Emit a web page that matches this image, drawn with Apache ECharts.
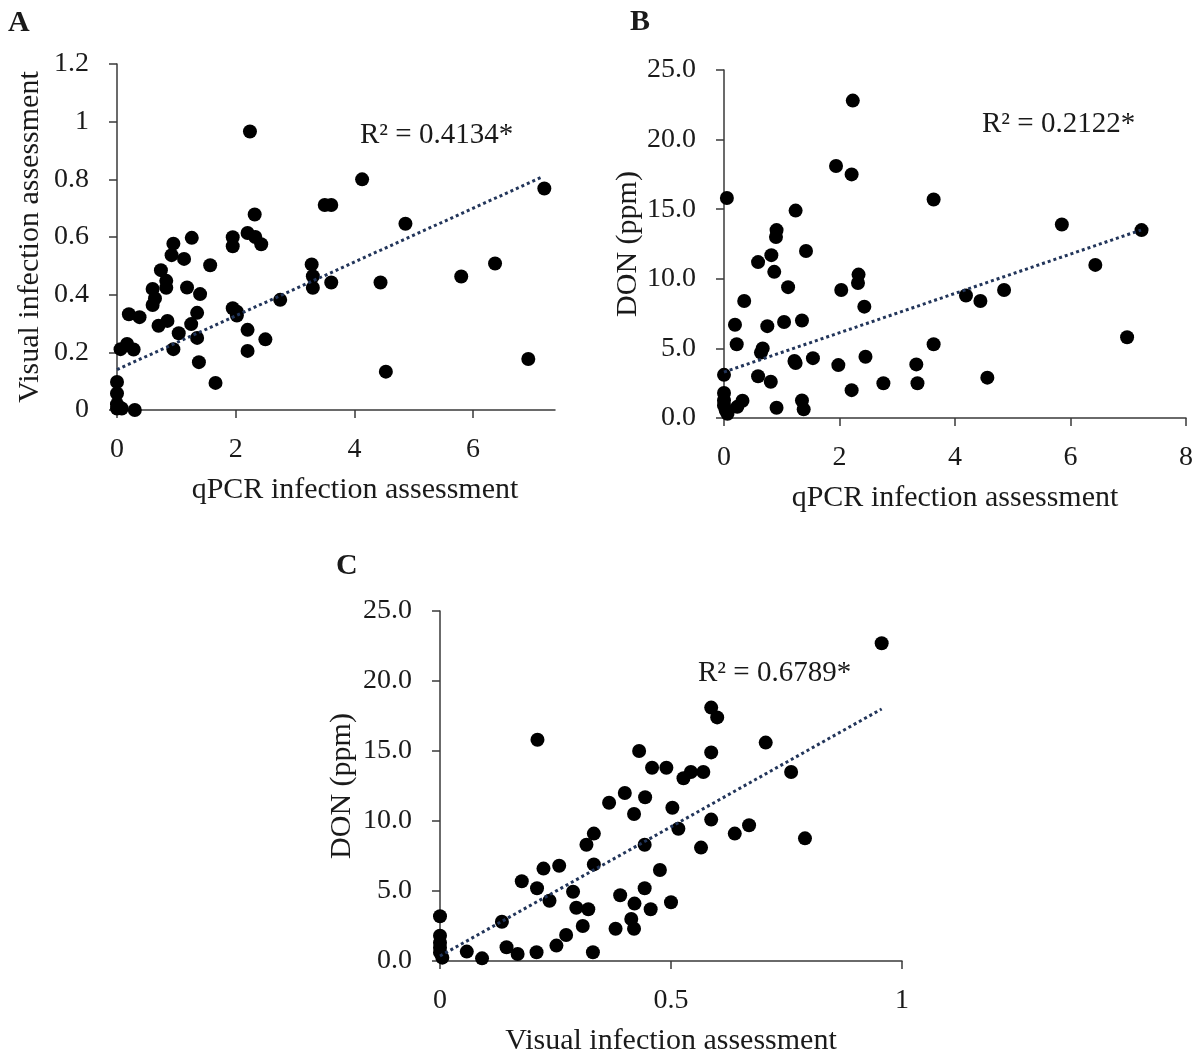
<!DOCTYPE html>
<html>
<head>
<meta charset="utf-8">
<title>Infection assessment scatter plots</title>
<script src="https://cdn.jsdelivr.net/npm/echarts@6/dist/echarts.min.js"></script>
<style>
  html, body { margin: 0; padding: 0; background: #fff; }
  #chart { width: 1198px; height: 1057px; }
</style>
</head>
<body>
<div id="chart"></div>
<script>
// panel A: qPCR vs visual
const pointsA = [
  [2.24, 0.966], [4.13, 0.80], [7.2, 0.768], [3.5, 0.711], [3.61, 0.711], [2.32, 0.678],
  [4.86, 0.646], [1.26, 0.597], [1.95, 0.599], [1.95, 0.568], [2.2, 0.614], [2.33, 0.6],
  [2.43, 0.575], [0.95, 0.577], [0.92, 0.537], [1.13, 0.524], [1.57, 0.502], [3.28, 0.505],
  [3.3, 0.464], [3.3, 0.424], [3.61, 0.442], [4.44, 0.442], [5.8, 0.463], [6.37, 0.508],
  [0.74, 0.485], [0.83, 0.448], [0.83, 0.424], [0.6, 0.42], [0.64, 0.387], [0.6, 0.364],
  [1.18, 0.425], [1.4, 0.402], [1.35, 0.337], [1.25, 0.298], [1.35, 0.25], [1.38, 0.166],
  [1.04, 0.266], [0.7, 0.292], [0.85, 0.309], [0.95, 0.211], [0.2, 0.332], [0.38, 0.322],
  [0.06, 0.211], [0.17, 0.229], [0.28, 0.21], [1.95, 0.353], [2.02, 0.328], [2.02, 0.341],
  [2.75, 0.382], [2.2, 0.278], [2.2, 0.205], [2.5, 0.245], [1.66, 0.094], [4.53, 0.133],
  [6.93, 0.177], [0, 0.097], [0, 0.057], [0, 0.02], [0, 0.005], [0.08, 0.005], [0.3, 0.0]
];
const trendA = [[0, 0.14], [7.15, 0.807]];
const xTicksA = [0, 2, 4, 6];

// panel B: qPCR vs DON
const pointsB = [
  [2.23, 22.8], [1.94, 18.1], [2.21, 17.5], [0.05, 15.8], [3.63, 15.7], [1.24, 14.9],
  [5.85, 13.9], [7.23, 13.5], [0.91, 13.5], [0.9, 13.0], [1.42, 12.0], [0.59, 11.2],
  [0.82, 11.7], [0.87, 10.5], [6.43, 11.0], [2.33, 10.3], [2.32, 9.7], [1.11, 9.4],
  [2.03, 9.2], [4.85, 9.2], [4.19, 8.8], [4.44, 8.4], [0.35, 8.4], [2.43, 8.0],
  [0.19, 6.7], [0.75, 6.6], [1.04, 6.9], [1.35, 7.0], [0.22, 5.3], [3.63, 5.3],
  [6.98, 5.8], [0.67, 5.0], [0.64, 4.7], [1.22, 4.1], [1.24, 3.95], [1.54, 4.3],
  [2.45, 4.4], [1.98, 3.8], [3.33, 3.85], [0, 3.1], [0.59, 3.0], [0.81, 2.6],
  [4.56, 2.9], [2.76, 2.5], [3.35, 2.5], [2.21, 2.0], [0, 1.8], [0, 1.26],
  [0.32, 1.24], [0.23, 0.8], [0.91, 0.74], [1.35, 1.26], [1.38, 0.62], [0, 0.9],
  [0.03, 0.55], [0.06, 0.3]
];
const trendB = [[0, 3.3], [7.22, 13.5]];
const xTicksB = [0, 2, 4, 6, 8];

// panel C: visual vs DON
const pointsC = [
  [0.956, 22.7], [0.587, 18.1], [0.6, 17.4], [0.211, 15.8], [0.705, 15.6], [0.431, 15.0],
  [0.587, 14.9], [0.459, 13.8], [0.49, 13.8], [0.527, 13.05], [0.543, 13.5], [0.57, 13.5],
  [0.76, 13.5], [0.4, 12.0], [0.366, 11.3], [0.444, 11.7], [0.42, 10.5], [0.503, 10.95],
  [0.587, 10.1], [0.516, 9.45], [0.669, 9.7], [0.638, 9.1], [0.79, 8.76], [0.565, 8.1],
  [0.333, 9.1], [0.317, 8.3], [0.443, 8.3], [0.333, 6.9], [0.258, 6.8], [0.224, 6.6],
  [0.476, 6.5], [0.177, 5.7], [0.21, 5.2], [0.288, 4.95], [0.443, 5.2], [0.237, 4.3],
  [0.39, 4.7], [0.421, 4.1], [0.5, 4.2], [0.295, 3.8], [0.321, 3.7], [0.456, 3.7],
  [0, 3.2], [0.134, 2.8], [0.414, 3.0], [0.309, 2.5], [0.38, 2.3], [0.42, 2.3],
  [0.273, 1.86], [0.252, 1.1], [0, 1.8], [0, 1.3], [0, 0.95], [0, 0.6],
  [0.005, 0.24], [0.144, 0.98], [0.168, 0.5], [0.209, 0.62], [0.331, 0.62], [0.058, 0.67],
  [0.091, 0.19]
];
const trendC = [[0, 0.36], [0.956, 18.0]];
const xTicksC = [0, 0.5, 1];

const r2Labels = ['R\u00b2 = 0.4134*', 'R\u00b2 = 0.2122*', 'R\u00b2 = 0.6789*'];

const FONT = '"Liberation Serif", "Times New Roman", serif';
const TEXT = '#1a1a1a';
const AXIS = '#3a3a3a';

function xAxisOf(gridIndex, name, max, ticks, shift) {
  return {
    type: 'value', gridIndex: gridIndex, name: name, nameLocation: 'middle', nameGap: 65,
    min: 0, max: max,
    nameTextStyle: { fontFamily: FONT, fontSize: 30, color: TEXT, padding: [0, 0, 0, shift || 0] },
    axisLine: { onZero: false, lineStyle: { color: AXIS, width: 1.5 } },
    axisTick: { show: true, length: 8, customValues: ticks, lineStyle: { color: AXIS, width: 1.5 } },
    axisLabel: { customValues: ticks, margin: 26, fontFamily: FONT, fontSize: 28, color: TEXT },
    splitLine: { show: false }
  };
}

function yAxisOf(gridIndex, name, max, interval, gap, fmt) {
  return {
    type: 'value', gridIndex: gridIndex, name: name, nameLocation: 'middle', nameGap: gap,
    min: 0, max: max, interval: interval,
    nameTextStyle: { fontFamily: FONT, fontSize: 30, color: TEXT },
    axisLine: { show: true, onZero: false, lineStyle: { color: AXIS, width: 1.5 } },
    axisTick: { show: true, length: 8, lineStyle: { color: AXIS, width: 1.5 } },
    axisLabel: { margin: 28, fontFamily: FONT, fontSize: 28, color: TEXT, formatter: fmt },
    splitLine: { show: false }
  };
}

function dots(i, data) {
  return {
    type: 'scatter', xAxisIndex: i, yAxisIndex: i, data: data, clip: false,
    symbolSize: 14, itemStyle: { color: '#000', opacity: 1 }, z: 3
  };
}

function trend(i, data) {
  return {
    type: 'line', xAxisIndex: i, yAxisIndex: i, data: data, symbol: 'none', clip: false,
    lineStyle: { type: 'dotted', width: 3, color: '#22355a' }, z: 4
  };
}

const chart = echarts.init(document.getElementById('chart'));
chart.setOption({
  backgroundColor: '#fff',
  animation: false,
  grid: [
    { left: 117, top: 64, width: 438, height: 346 },
    { left: 724, top: 70, width: 462, height: 348 },
    { left: 440, top: 611, width: 462, height: 351 }
  ],
  xAxis: [
    xAxisOf(0, 'qPCR infection assessment', 7.38, xTicksA, 38),
    xAxisOf(1, 'qPCR infection assessment', 8, xTicksB),
    xAxisOf(2, 'Visual infection assessment', 1, xTicksC)
  ],
  yAxis: [
    yAxisOf(0, 'Visual infection assessment', 1.2, 0.2, 72, v => String(Math.round(v * 10) / 10)),
    yAxisOf(1, 'DON (ppm)', 25, 5, 76, v => v.toFixed(1)),
    yAxisOf(2, 'DON (ppm)', 25, 5, 83, v => v.toFixed(1))
  ],
  series: [
    trend(0, trendA), dots(0, pointsA),
    trend(1, trendB), dots(1, pointsB),
    trend(2, trendC), dots(2, pointsC)
  ],
  graphic: [
    { type: 'text', left: 8, top: 8, style: { text: 'A', font: 'bold 30px ' + FONT, fill: TEXT } },
    { type: 'text', left: 630, top: 7, style: { text: 'B', font: 'bold 30px ' + FONT, fill: TEXT } },
    { type: 'text', left: 336, top: 551, style: { text: 'C', font: 'bold 30px ' + FONT, fill: TEXT } },
    { type: 'text', left: 360, top: 121, style: { text: r2Labels[0], font: '29px ' + FONT, fill: TEXT } },
    { type: 'text', left: 982, top: 110, style: { text: r2Labels[1], font: '29px ' + FONT, fill: TEXT } },
    { type: 'text', left: 698, top: 659, style: { text: r2Labels[2], font: '29px ' + FONT, fill: TEXT } }
  ]
});
</script>
</body>
</html>
